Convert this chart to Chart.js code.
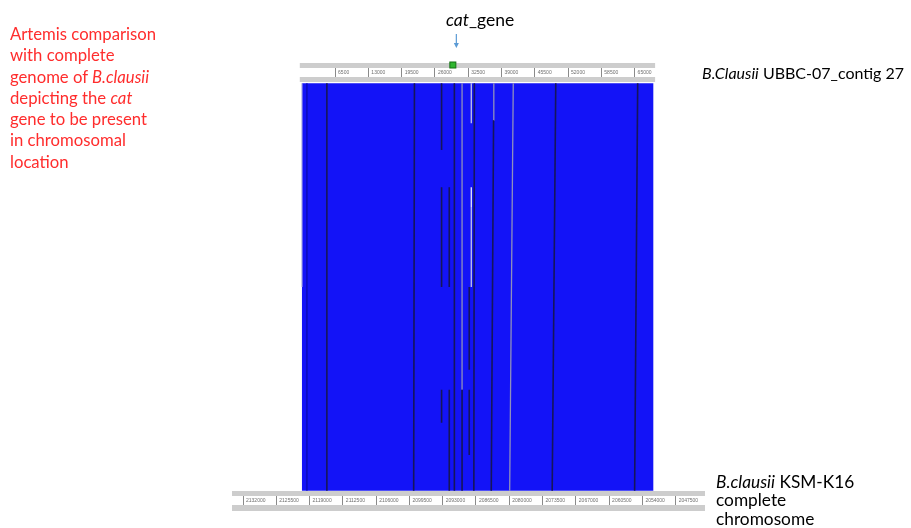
<!DOCTYPE html>
<html lang="en">
<head>
    <meta charset="UTF-8">
    <title>Artemis comparison</title>
    <script src="https://cdn.jsdelivr.net/npm/chart.js"></script>
    <style>
        body { margin: 0; background: #fff; }
        #wrap { position: relative; width: 911px; height: 528px; overflow: hidden; }
        .note { position: absolute; font-family: Lato, sans-serif; white-space: nowrap; }
        #left { left: 10px; top: 24px; font-size: 16.7px; line-height: 21.3px; color: #ff2d2d; }
        #cat { left: 446px; top: 10px; font-size: 17.5px; line-height: 20px; color: #000; }
        #contig { left: 702px; top: 63.5px; font-size: 16px; line-height: 18px; color: #000; }
        #chrom { left: 716px; top: 472.5px; font-size: 17.3px; line-height: 18.8px; color: #000; }
    </style>
</head>
<body>
<div id="wrap">
    <canvas id="cmp"></canvas>
    <div class="note" id="left">Artemis comparison<br>with complete<br>genome of <i>B.clausii</i><br>depicting the <i>cat</i><br>gene to be present<br>in chromosomal<br>location</div>
    <div class="note" id="cat"><i>cat</i>_gene</div>
    <div class="note" id="contig"><i>B.Clausii</i> UBBC-07_contig 27</div>
    <div class="note" id="chrom"><i>B.clausii</i> KSM-K16<br>complete<br>chromosome</div>
</div>

<script>
    // ruler ticks (bp)
    const contigTicks = [6500, 13000, 19500, 26000, 32500, 39000, 45500, 52000, 58500, 65000];
    const chromTicks = [2132000, 2125500, 2119000, 2112500, 2106000, 2099500, 2093000,
                        2086500, 2080000, 2073500, 2067000, 2060500, 2054000, 2047500];
    const contigView = [-13630, 78745];      // visible range of the contig ruler
    const chromView = [2041770, 2134150];    // visible range of the chromosome ruler (reversed)
    const contigLength = 69000;
    const matchEnd = 68700;                  // aligned block runs 0..matchEnd on the contig
    const catGenePos = 29500;

    // lines inside the match block: contig pos at top / at bottom, span of block height (0 = chromosome, 1 = contig)
    const lineKind = ['faint', 'dark', 'dark', 'dark', 'dark', 'dark', 'dark', 'dark', 'dark', 'dark', 'grey',
                      'dark', 'dark', 'dark', 'light', 'light', 'white', 'dark', 'grey', 'grey', 'dark', 'dark', 'light'];
    const lineTop  = [1000, 4900, 22000, 27300, 27300, 27300, 28800, 28800, 29800, 31300, 31300,
                      32700, 32700, 33700, 33100, 33100, 33100, 37500, 37500, 41300, 49600, 65600, 0];
    const lineBot  = [1000, 4900, 21850, 27300, 27300, 27300, 28800, 28800, 29800, 31300, 31300,
                      32700, 32700, 33600, 33100, 33100, 33100, 37000, 37000, 40600, 48900, 65000, 0];
    const lineFrom = [0, 0, 0, 0.836, 0.5, 0.167, 0.5, 0, 0, 0, 0.248,
                      0.297, 0.088, 0, 0.902, 0.5, 0.696, 0, 0.909, 0, 0, 0, 0.5];
    const lineTo   = [1, 1, 1, 1, 0.745, 0.248, 0.745, 0.248, 1, 0.248, 1,
                      0.5, 0.248, 1, 1, 0.696, 0.745, 0.909, 1, 1, 1, 1, 1];

    const kindColor = { dark: '#16165a', faint: '#0a0ab0', grey: '#9090bc', light: '#c6c6e8', white: '#ececf8' };

    const segData = kind => {
        const pts = [];
        lineKind.forEach((k, i) => {
            if (k !== kind) return;
            const xAt = f => lineBot[i] + (lineTop[i] - lineBot[i]) * f;
            pts.push({x: xAt(lineFrom[i]), y: lineFrom[i]}, {x: xAt(lineTo[i]), y: lineTo[i]}, {x: xAt(lineTo[i]), y: null});
        });
        return pts;
    };

    const lineSets = Object.keys(kindColor).map(kind => ({
        label: kind,
        data: segData(kind),
        showLine: true,
        borderColor: kindColor[kind],
        borderWidth: kind === 'dark' ? 1.6 : 1.3,
        pointRadius: 0,
        spanGaps: false,
        xAxisID: 'xTop',
        order: 1
    }));

    // grey bands and white strips of the two Artemis rulers
    const rulers = {
        id: 'rulers',
        beforeDraw(chart) {
            const {ctx, chartArea: a, scales} = chart;
            const l = scales.xTop.getPixelForValue(0) - 2;
            const r = scales.xTop.getPixelForValue(contigLength);
            ctx.save();
            ctx.fillStyle = '#cdcdcd';
            ctx.fillRect(l, a.top - 20, r - l, 5);
            ctx.fillRect(l, a.top - 6, r - l, 5);
            ctx.fillRect(a.left, a.bottom, a.right - a.left, 5);
            ctx.fillRect(a.left, a.bottom + 14, a.right - a.left, 6);
            ctx.fillStyle = '#ffffff';
            ctx.fillRect(l, a.top - 15, r - l, 9);
            ctx.fillRect(a.left, a.bottom + 5, a.right - a.left, 9);
            ctx.restore();
        },
        afterDraw(chart) {
            const {ctx, chartArea: a, scales} = chart;
            const gx = scales.xTop.getPixelForValue(catGenePos);
            ctx.save();
            // gene feature on the contig ruler
            ctx.fillStyle = '#2fb52f';
            ctx.strokeStyle = '#127012';
            ctx.fillRect(gx - 3, a.top - 21, 6, 6);
            ctx.strokeRect(gx - 3, a.top - 21, 6, 6);
            // arrow from the label down to the gene
            const ax = gx + 3.5;
            ctx.strokeStyle = '#5b9bd5';
            ctx.fillStyle = '#5b9bd5';
            ctx.lineWidth = 1.2;
            ctx.beginPath();
            ctx.moveTo(ax, a.top - 49);
            ctx.lineTo(ax, a.top - 39);
            ctx.stroke();
            ctx.beginPath();
            ctx.moveTo(ax - 2.5, a.top - 40);
            ctx.lineTo(ax + 2.5, a.top - 40);
            ctx.lineTo(ax, a.top - 35);
            ctx.closePath();
            ctx.fill();
            ctx.restore();
        }
    };

    const tickFont = { family: 'Liberation Sans', size: 5 };
    const rulerTicks = {
        font: tickFont, color: '#6f6f6f', align: 'start', labelOffset: 3,
        padding: -7.5, autoSkip: false, maxRotation: 0,
        callback: v => String(v)
    };

    new Chart(document.getElementById('cmp'), {
        type: 'scatter',
        data: {
            datasets: [
                ...lineSets,
                {
                    label: 'match',
                    data: [{x: 0, y: 1}, {x: matchEnd, y: 1}],
                    showLine: true,
                    borderWidth: 0,
                    pointRadius: 0,
                    fill: 'origin',
                    backgroundColor: '#1313f7',
                    xAxisID: 'xTop',
                    order: 10
                }
            ]
        },
        options: {
            responsive: true,
            maintainAspectRatio: false,
            animation: false,
            events: [],
            layout: { padding: { left: 232, right: 206, top: 68, bottom: 22 } },
            plugins: { legend: { display: false }, tooltip: { enabled: false } },
            scales: {
                xTop: {
                    type: 'linear',
                    axis: 'x',
                    position: 'top',
                    min: contigView[0],
                    max: contigView[1],
                    afterBuildTicks: s => { s.ticks = contigTicks.map(v => ({value: v})); },
                    afterFit: s => { s.height = 15; },
                    ticks: rulerTicks,
                    grid: {
                        drawOnChartArea: false, drawTicks: true, tickLength: 15, color: '#8a8a8a',
                        tickBorderDash: [9, 30], tickBorderDashOffset: 0
                    },
                    border: { display: false }
                },
                xBot: {
                    type: 'linear',
                    axis: 'x',
                    position: 'bottom',
                    reverse: true,
                    min: chromView[0],
                    max: chromView[1],
                    afterBuildTicks: s => { s.ticks = chromTicks.map(v => ({value: v})); },
                    afterFit: s => { s.height = 15; },
                    ticks: rulerTicks,
                    grid: {
                        drawOnChartArea: false, drawTicks: true, tickLength: 14, color: '#8a8a8a',
                        tickBorderDash: [9, 5], tickBorderDashOffset: 9
                    },
                    border: { display: false }
                },
                y: {
                    display: false,
                    min: -0.0005,
                    max: 1.0005
                }
            }
        },
        plugins: [rulers]
    });
</script>
</body>
</html>
